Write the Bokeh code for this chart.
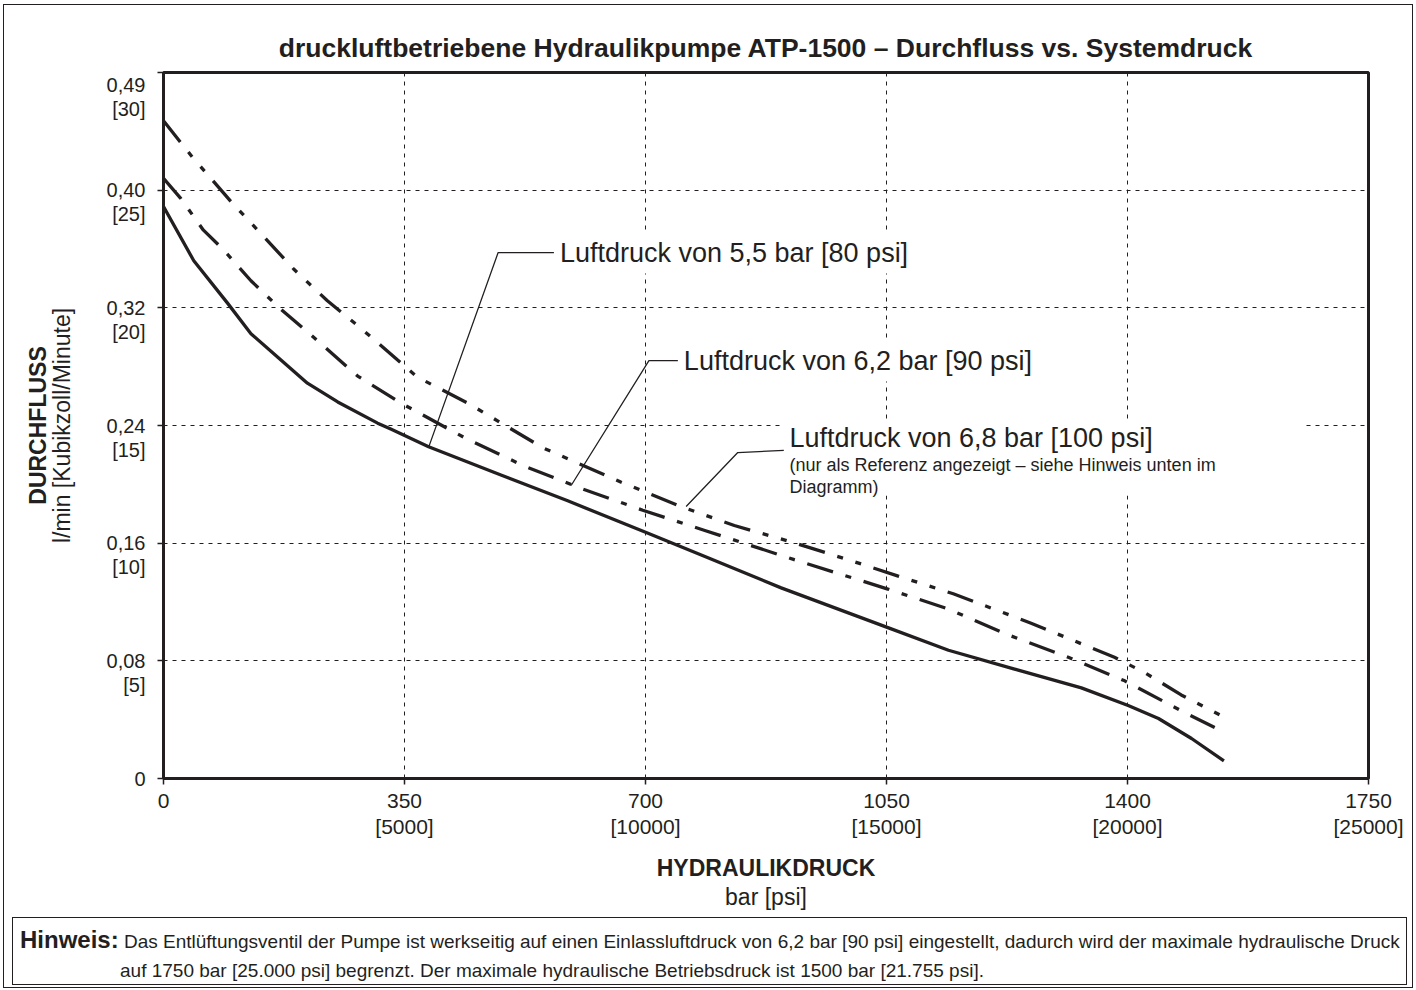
from bokeh.plotting import figure
from bokeh.layouts import column
from bokeh.models import LinearAxis, FixedTicker, Range1d, Label, BoxAnnotation, Div
from bokeh.embed import file_html
from bokeh.resources import INLINE

INK = "#231f20"
FONT = "Liberation Sans"

# ---------------- data ----------------
pressure_ticks = [0, 350, 700, 1050, 1400, 1750]
pressure_bar_labels = ["0", "350", "700", "1050", "1400", "1750"]
pressure_psi_labels = ["", "[5000]", "[10000]", "[15000]", "[20000]", "[25000]"]

flow_ticks = [0, 5, 10, 15, 20, 25, 30]
flow_lmin_labels = ["0", "0,08", "0,16", "0,24", "0,32", "0,40", "0,49"]
flow_cim_labels = ["", "[5]", "[10]", "[15]", "[20]", "[25]", "[30]"]

# air pressure 5,5 bar [80 psi]  (solid)
air55_bar = [0, 44, 93, 127, 166, 209, 253, 311, 330, 385, 490, 587, 701, 781,
             897, 1053, 1140, 1236, 1333, 1401, 1445, 1493, 1540]
air55_flow = [24.3, 22.0, 20.2, 18.9, 17.9, 16.8, 16.0, 15.1, 14.85, 14.1, 12.9,
              11.8, 10.45, 9.5, 8.1, 6.4, 5.45, 4.65, 3.85, 3.1, 2.55, 1.7, 0.75]

# air pressure 6,2 bar [90 psi]  (dash-dot)
air62_bar = [0, 25, 58, 86, 127, 170, 218, 282, 345, 436, 522, 609, 696, 785,
             916, 1052, 1140, 1227, 1314, 1396, 1483, 1535]
air62_flow = [25.5, 24.65, 23.3, 22.5, 21.15, 19.95, 18.75, 17.1, 15.95, 14.5,
              13.3, 12.3, 11.4, 10.55, 9.3, 8.05, 7.2, 6.1, 5.15, 4.15, 2.8, 2.05]

# air pressure 6,8 bar [100 psi]  (dash-dot-dot)
air68_bar = [0, 42, 100, 148, 189, 238, 286, 369, 442, 551, 664, 752, 829, 912,
             994, 1067, 1147, 1260, 1381, 1425, 1478, 1541]
air68_flow = [27.95, 26.4, 24.45, 22.95, 21.65, 20.3, 19.15, 17.05, 15.95, 14.05,
              12.6, 11.55, 10.75, 10.05, 9.3, 8.6, 7.85, 6.6, 5.15, 4.5, 3.55, 2.6]

series_names = ["Luftdruck von 5,5 bar [80 psi]",
                "Luftdruck von 6,2 bar [90 psi]",
                "Luftdruck von 6,8 bar [100 psi]"]
ref_note = "(nur als Referenz angezeigt \u2013 siehe Hinweis unten im\nDiagramm)"

# leader lines (anchor on curve -> elbow -> text)
leader55_x = [385, 486, 572]
leader55_y = [14.07, 22.35, 22.35]
leader62_x = [592, 705, 752]
leader62_y = [12.45, 17.76, 17.76]
leader68_x = [759, 834, 901]
leader68_y = [11.56, 13.85, 13.94]

title_text = "druckluftbetriebene Hydraulikpumpe ATP-1500 \u2013 Durchfluss vs. Systemdruck"
note_head = "Hinweis:"
note_line1 = ("Das Entl\u00fcftungsventil der Pumpe ist werkseitig auf einen Einlassluftdruck von "
              "6,2 bar [90 psi] eingestellt, dadurch wird der maximale hydraulische Druck")
note_line2 = ("auf 1750 bar [25.000 psi] begrenzt. Der maximale hydraulische Betriebsdruck "
              "ist 1500 bar [21.755 psi].")

# ---------------- main figure ----------------
W = 1408
H_MAIN = 912
p = figure(width=W, height=H_MAIN, x_range=Range1d(0, 1750), y_range=Range1d(0, 30),
           output_backend="svg", toolbar_location=None,
           min_border_left=159, min_border_right=44, min_border_top=67,
           min_border_bottom=139)
p.background_fill_color = "white"
p.border_fill_color = "white"
p.outline_line_color = INK
p.outline_line_width = 3

p.title.text = title_text
p.title.align = "center"
p.title.text_font = FONT
p.title.text_font_size = "26.5px"
p.title.text_font_style = "bold"
p.title.text_color = INK
p.title.standoff = 20

# x axis
xa = p.xaxis[0]
xa.ticker = FixedTicker(ticks=pressure_ticks)
xa.major_label_overrides = {t: (b if s == "" else b + "\n" + s)
                            for t, b, s in zip(pressure_ticks, pressure_bar_labels, pressure_psi_labels)}
xa.axis_label = "HYDRAULIKDRUCK"
xa.axis_label_text_font_style = "bold"
xa.axis_label_standoff = 14

# y axis
ya = p.yaxis[0]


def ylab(t, a, c):
    if c == "":
        return a
    if t == flow_ticks[-1]:
        return " \n \n" + a + "\n" + c
    return " \n" + a + "\n" + c


ya.ticker = FixedTicker(ticks=flow_ticks)
ya.major_label_overrides = {t: ylab(t, a, c)
                            for t, a, c in zip(flow_ticks, flow_lmin_labels, flow_cim_labels)}
ya.axis_label = "l/min [Kubikzoll/Minute]"
ya.axis_label_text_font_style = "normal"
ya.axis_label_standoff = 29

for ax in (xa, ya):
    ax.axis_line_color = INK
    ax.axis_line_width = 3
    ax.major_tick_line_color = INK
    ax.major_tick_line_width = 1.5
    ax.major_tick_out = 6
    ax.major_tick_in = 0
    ax.minor_tick_line_color = None
    ax.major_label_text_font = FONT
    ax.major_label_text_color = INK
    ax.axis_label_text_font = FONT
    ax.axis_label_text_font_size = "23px"
    ax.axis_label_text_color = INK
xa.major_label_text_font_size = "21px"
xa.major_label_text_line_height = 1.15
xa.major_label_standoff = 4
ya.major_label_text_font_size = "20px"
ya.major_label_text_line_height = 1.1
ya.major_label_standoff = 12

# extra label-only axes
ya2 = LinearAxis(ticker=FixedTicker(ticks=[]), axis_label="DURCHFLUSS",
                 axis_line_color=None, major_tick_line_color=None, minor_tick_line_color=None,
                 axis_label_text_font=FONT, axis_label_text_font_size="23px",
                 axis_label_text_font_style="bold", axis_label_text_color=INK,
                 axis_label_standoff=-5)
p.add_layout(ya2, "left")
xa2 = LinearAxis(ticker=FixedTicker(ticks=[]), axis_label="bar [psi]",
                 axis_line_color=None, major_tick_line_color=None, minor_tick_line_color=None,
                 axis_label_text_font=FONT, axis_label_text_font_size="23px",
                 axis_label_text_font_style="normal", axis_label_text_color=INK,
                 axis_label_standoff=0)
p.add_layout(xa2, "below")

# grid
p.xgrid.ticker = FixedTicker(ticks=pressure_ticks[1:-1])
p.ygrid.ticker = FixedTicker(ticks=flow_ticks[1:-1])
for g in (p.xgrid[0], p.ygrid[0]):
    g.grid_line_color = INK
    g.grid_line_width = 1
    g.grid_line_dash = "4 5"

# curves
p.line(air55_bar, air55_flow, line_color=INK, line_width=3.3, line_join="round")
p.line(air62_bar, air62_flow, line_color=INK, line_width=3.3, line_dash="27 13 6 13")
p.line(air68_bar, air68_flow, line_color=INK, line_width=3.3, line_dash="27 13 6 13 6 13")

# white mask behind the 6,8 bar text block
p.add_layout(BoxAnnotation(left=901, right=1656, top=15.21, bottom=12.03,
                           fill_color="white", fill_alpha=1.0, line_color=None))

# leader lines
for lx, ly in ((leader55_x, leader55_y), (leader62_x, leader62_y), (leader68_x, leader68_y)):
    p.line(lx, ly, line_color=INK, line_width=1.3)


def add_label(fig, x, y, text, size, **kw):
    lab = Label(x=x, y=y, text=text, text_font=FONT, text_font_size=size,
                text_color=INK, text_align="left", text_baseline="middle", **kw)
    fig.add_layout(lab)
    return lab


add_label(p, leader55_x[-1] - 5, leader55_y[-1], series_names[0], "27px",
          background_fill_color="white", padding=6)
add_label(p, leader62_x[-1] - 5, leader62_y[-1], series_names[1], "27px",
          background_fill_color="white", padding=6)
add_label(p, leader68_x[-1] + 8, 14.49, series_names[2], "27px")
add_label(p, leader68_x[-1] + 8, 12.85, ref_note, "18px", text_line_height=1.1)

# ---------------- note box ----------------
note_html = ("<div style=\"padding:7px 0 0 107px; text-indent:-100px; "
             "font-family:'Liberation Sans', Arial, sans-serif; font-size:19px; "
             "line-height:29px; color:#231f20; white-space:nowrap;\">"
             "<b style='font-size:24px'>" + note_head + "</b> " + note_line1 +
             "<br>" + note_line2 + "</div>")
note = Div(text=note_html, width=1395, height=68, margin=(0, 0, 2, 8),
           styles={"border": "1.3px solid #231f20",
                   "box-sizing": "border-box",
                   "overflow": "hidden",
                   "background": "white"})

layout = column(p, note, spacing=0,
                styles={"margin-left": "4px", "margin-top": "5px",
                        "outline": "1.5px solid #231f20"})

open("out.html", "w").write(file_html(layout, INLINE))
